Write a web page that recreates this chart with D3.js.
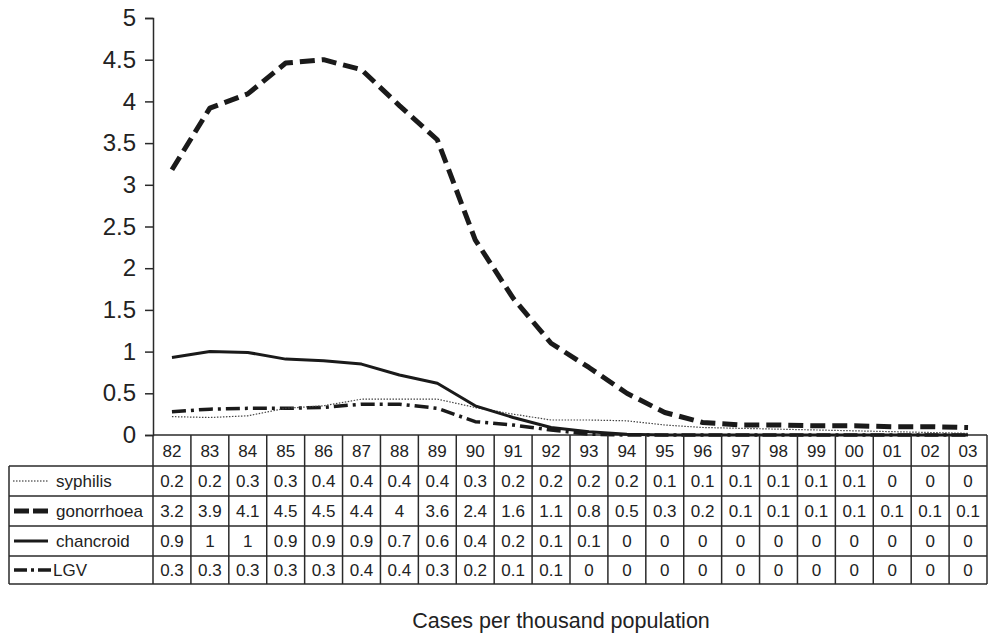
<!DOCTYPE html>
<html>
<head>
<meta charset="utf-8">
<script src="https://cdn.jsdelivr.net/npm/d3@7"></script>
<style>
  body { margin: 0; background: #fff; }
  svg text { font-family: "Liberation Sans", Arial, sans-serif; fill: #222; }
</style>
</head>
<body>
<div id="chart"></div>
<script>
// years on the category axis
const years = ['82','83','84','85','86','87','88','89','90','91','92','93','94','95','96','97','98','99','00','01','02','03'];

// plotted values
const syphilis = [0.22,0.21,0.23,0.32,0.35,0.43,0.43,0.43,0.33,0.25,0.18,0.18,0.17,0.12,0.09,0.08,0.07,0.06,0.05,0.04,0.03,0.02];
const gonorrhoea = [3.18,3.92,4.09,4.46,4.5,4.38,3.95,3.54,2.34,1.64,1.1,0.81,0.5,0.27,0.15,0.12,0.12,0.11,0.11,0.1,0.1,0.09];
const chancroid = [0.93,1.0,0.99,0.91,0.89,0.85,0.72,0.62,0.35,0.21,0.09,0.04,0.01,0,0,0,0,0,0,0,0,0];
const lgv = [0.28,0.31,0.32,0.32,0.33,0.37,0.37,0.32,0.16,0.12,0.06,0.01,0,0,0,0,0,0,0,0,0,0];

// values printed in the data table
const syphilisTable = ['0.2','0.2','0.3','0.3','0.4','0.4','0.4','0.4','0.3','0.2','0.2','0.2','0.2','0.1','0.1','0.1','0.1','0.1','0.1','0','0','0'];
const gonorrhoeaTable = ['3.2','3.9','4.1','4.5','4.5','4.4','4','3.6','2.4','1.6','1.1','0.8','0.5','0.3','0.2','0.1','0.1','0.1','0.1','0.1','0.1','0.1'];
const chancroidTable = ['0.9','1','1','0.9','0.9','0.9','0.7','0.6','0.4','0.2','0.1','0.1','0','0','0','0','0','0','0','0','0','0'];
const lgvTable = ['0.3','0.3','0.3','0.3','0.3','0.4','0.4','0.3','0.2','0.1','0.1','0','0','0','0','0','0','0','0','0','0','0'];

const yTicks = [0,0.5,1,1.5,2,2.5,3,3.5,4,4.5,5];

const series = [
  { name: 'syphilis', vals: syphilis, table: syphilisTable, width: 1.2, dash: '1.5,1.5' },
  { name: 'gonorrhoea', vals: gonorrhoea, table: gonorrhoeaTable, width: 5, dash: '15,7' },
  { name: 'chancroid', vals: chancroid, table: chancroidTable, width: 3, dash: null },
  { name: 'LGV', vals: lgv, table: lgvTable, width: 3.5, dash: '14,5,3,5' }
];

const W = 990, H = 635;
const plotLeft = 153, plotRight = 987, plotTop = 18, base = 435;
const rowH = [435, 466, 496, 526, 556, 584];
const tableLeft = 9;
const ink = '#2a2a2a';
const cellFont = 17;

const svg = d3.select('#chart').append('svg')
  .attr('width', W).attr('height', H);

const x = d3.scaleBand().domain(years).range([plotLeft, plotRight]);
const y = d3.scaleLinear().domain([0, 5]).range([base, plotTop]);
const cx = d => x(d) + x.bandwidth() / 2;

// y axis
const yAxis = svg.append('g')
  .attr('transform', `translate(${plotLeft},0)`)
  .call(d3.axisLeft(y).tickValues(yTicks).tickSize(8).tickPadding(9).tickFormat(d => String(d)));
yAxis.select('.domain').attr('stroke', ink).attr('stroke-width', 1.5);
yAxis.selectAll('.tick line').attr('stroke', ink).attr('stroke-width', 1.5);
yAxis.selectAll('.tick text').attr('font-size', 24).attr('fill', '#222')
  .style('font-family', '"Liberation Sans", Arial, sans-serif');

// baseline
svg.append('line')
  .attr('x1', plotLeft).attr('x2', plotRight).attr('y1', base).attr('y2', base)
  .attr('stroke', ink).attr('stroke-width', 1.5);

// lines
const line = d3.line().x((d, i) => cx(years[i])).y(d => y(d));
const lineOrder = [3, 0, 2, 1];
lineOrder.forEach(k => {
  const s = series[k];
  svg.append('path')
    .attr('d', line(s.vals))
    .attr('fill', 'none')
    .attr('stroke', s.name === 'syphilis' ? '#444' : '#1a1a1a')
    .attr('stroke-width', s.width)
    .attr('stroke-dasharray', s.dash)
    .attr('stroke-linejoin', 'round');
});

// table grid
const grid = svg.append('g').attr('stroke', ink).attr('stroke-width', 1.5);
years.forEach(yr => {
  grid.append('line')
    .attr('x1', x(yr)).attr('x2', x(yr))
    .attr('y1', base).attr('y2', rowH[5]);
});
grid.append('line')
  .attr('x1', plotRight).attr('x2', plotRight).attr('y1', base).attr('y2', rowH[5]);
grid.append('line')
  .attr('x1', tableLeft).attr('x2', tableLeft).attr('y1', rowH[1]).attr('y2', rowH[5]);
rowH.slice(1).forEach(yy => {
  grid.append('line')
    .attr('x1', tableLeft).attr('x2', plotRight).attr('y1', yy).attr('y2', yy);
});

// header labels
svg.append('g').selectAll('text').data(years).join('text')
  .attr('x', d => cx(d)).attr('y', (rowH[0] + rowH[1]) / 2 + 6)
  .attr('text-anchor', 'middle').attr('font-size', cellFont)
  .text(d => d);

// body rows with legend swatches
series.forEach((s, r) => {
  const mid = (rowH[r + 1] + rowH[r + 2]) / 2;
  const sw = s.name === 'syphilis' ? [13, 48] : s.name === 'LGV' ? [14, 51] : [14, 48];
  svg.append('line')
    .attr('x1', sw[0]).attr('x2', sw[1]).attr('y1', mid).attr('y2', mid)
    .attr('stroke', '#1a1a1a')
    .attr('stroke-width', s.name === 'syphilis' ? 1 : s.width)
    .attr('stroke-dasharray', s.name === 'gonorrhoea' ? '15,4' : s.name === 'LGV' ? '13,4,3,4' : s.dash);
  svg.append('text')
    .attr('x', s.name === 'LGV' ? 53 : 56).attr('y', mid + 6)
    .attr('font-size', cellFont)
    .text(s.name);
  svg.append('g').selectAll('text').data(s.table).join('text')
    .attr('x', (d, i) => cx(years[i])).attr('y', mid + 6)
    .attr('text-anchor', 'middle').attr('font-size', cellFont)
    .text(d => d);
});

// axis title
svg.append('text')
  .attr('x', 561).attr('y', 628)
  .attr('text-anchor', 'middle').attr('font-size', 21.5)
  .text('Cases per thousand population');
</script>
</body>
</html>
